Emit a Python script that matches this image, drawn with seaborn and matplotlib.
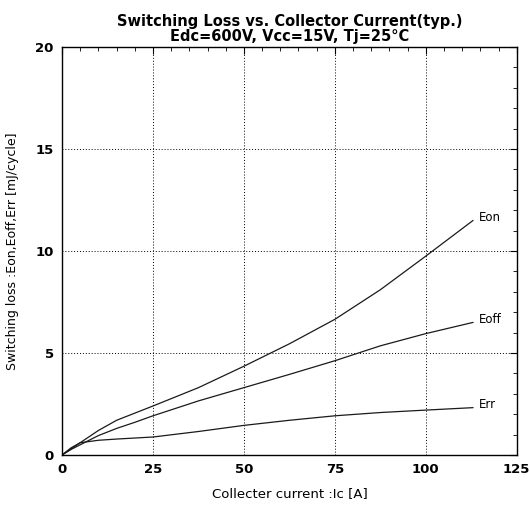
import pandas as pd
import matplotlib
matplotlib.use('Agg')
import matplotlib.pyplot as plt
import seaborn as sns
from matplotlib.ticker import MultipleLocator

# Values
ic = [0, 2.5, 5, 10, 15, 20, 25, 37.5, 50, 62.5, 75, 87.5, 100, 113]
eon = [0, 0.3, 0.6, 1.2, 1.7, 2.05, 2.4, 3.3, 4.35, 5.45, 6.65, 8.1, 9.75, 11.5]
eoff = [0, 0.27, 0.5, 0.95, 1.3, 1.6, 1.92, 2.65, 3.3, 3.95, 4.62, 5.35, 5.95, 6.5]
err = [0, 0.35, 0.6, 0.72, 0.78, 0.83, 0.88, 1.15, 1.45, 1.7, 1.92, 2.08, 2.2, 2.32]
curve_names = ['Eon', 'Eoff', 'Err']

df = pd.concat([
    pd.DataFrame({'Ic': ic, 'E': vals, 'curve': name})
    for name, vals in zip(curve_names, [eon, eoff, err])
])

sns.set_style('white')
plt.rcParams['font.family'] = ['DejaVu Sans']
plt.rcParams['text.color'] = 'black'
plt.rcParams['axes.labelcolor'] = 'black'
plt.rcParams['xtick.color'] = 'black'
plt.rcParams['ytick.color'] = 'black'

fig = plt.figure(figsize=(5.3, 5.17), dpi=100)
ax = fig.add_axes([0.117, 0.12, 0.858, 0.789])

sns.lineplot(data=df, x='Ic', y='E', units='curve', estimator=None,
             color='#1a1a1a', linewidth=0.9, ax=ax, legend=False)

# curve labels at the right end
for name, vals in zip(curve_names, [eon, eoff, err]):
    ax.text(ic[-1] + 1.5, vals[-1] + 0.15, name, fontsize=8.5, ha='left', va='center')

ax.set_xlim(0, 125)
ax.set_ylim(0, 20)
ax.xaxis.set_major_locator(MultipleLocator(25))
ax.xaxis.set_minor_locator(MultipleLocator(5))
ax.yaxis.set_major_locator(MultipleLocator(5))
ax.yaxis.set_minor_locator(MultipleLocator(1))
ax.tick_params(which='both', direction='in', top=True, right=True, labelsize=9.5)
ax.tick_params(which='major', length=5, width=0.8, pad=6)
ax.tick_params(which='minor', length=3, width=0.6)
for lbl in ax.get_xticklabels() + ax.get_yticklabels():
    lbl.set_fontweight('bold')
ax.grid(True, which='major', linestyle=(0, (1, 2)), color='black', linewidth=0.7)
for s in ax.spines.values():
    s.set_color('black')
    s.set_linewidth(1.0)

ax.set_xlabel('Collecter current :Ic [A]', fontsize=9.5, labelpad=8)
ax.set_ylabel('Switching loss :Eon,Eoff,Err [mJ/cycle]', fontsize=9, labelpad=12)
ax.set_title('Switching Loss vs. Collector Current(typ.)\nEdc=600V, Vcc=15V, Tj=25°C',
             fontsize=10.5, fontweight='bold', linespacing=1.0, pad=4)

fig.savefig('out.png', dpi=100)
